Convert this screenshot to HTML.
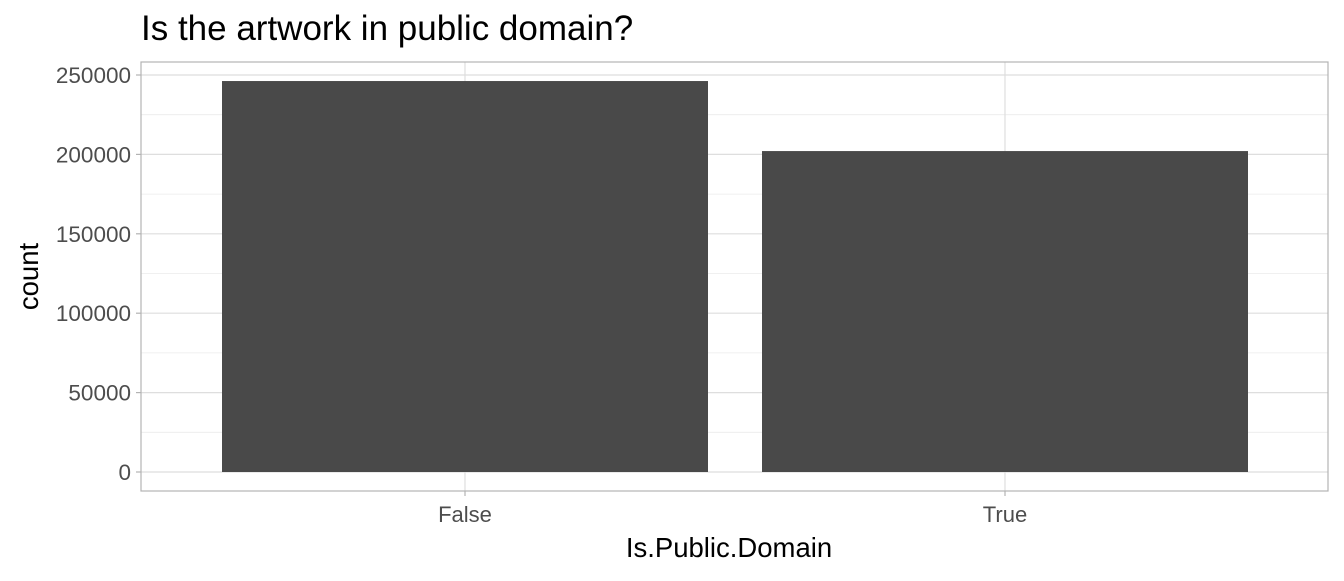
<!DOCTYPE html>
<html><head><meta charset="utf-8"><style>
body{margin:0;background:#fff;font-family:"Liberation Sans",sans-serif}
</style></head><body>
<svg id="c" width="1344" height="576" xmlns="http://www.w3.org/2000/svg"></svg>
<script>
const categories=["False","True"];
const counts=[246200,202100];
const yTicks=[0,50000,100000,150000,200000,250000];
const svg=document.getElementById('c');
const NS="http://www.w3.org/2000/svg";
const L=141,R=1328,T=62,B=491;
const y=v=>472-v*(397/250000);
const step=540;
const x=i=>465+i*step;
function el(t,a,txt){const e=document.createElementNS(NS,t);for(const k in a)e.setAttribute(k,a[k]);if(txt!==undefined)e.textContent=txt;svg.appendChild(e);return e;}
const bg=el('rect',{x:L,y:T,width:R-L,height:B-T,fill:'#fff'});


for(let i=0;i<yTicks.length-1;i++){const m=(yTicks[i]+yTicks[i+1])/2;
const g=el('line',{x1:L,x2:R,y1:y(m),y2:y(m),stroke:'#ebebeb','stroke-width':0.8});

}
yTicks.forEach(v=>{
const g=el('line',{x1:L,x2:R,y1:y(v),y2:y(v),stroke:'#dedede','stroke-width':1.2});


const t=el('line',{x1:L-5,x2:L,y1:y(v),y2:y(v),stroke:'#b3b3b3','stroke-width':1.2});


const l=el('text',{x:L-10,y:y(v)+8,'text-anchor':'end','font-size':22.5,fill:'#4d4d4d'},String(v));

});
categories.forEach((c,i)=>{
const g=el('line',{x1:x(i),x2:x(i),y1:T,y2:B,stroke:'#dedede','stroke-width':1.2});

});
categories.forEach((c,i)=>{
const w=0.9*step;
const b=el('rect',{x:x(i)-w/2,y:y(counts[i]),width:w,height:y(0)-y(counts[i]),fill:'#494949'});


const t=el('line',{x1:x(i),x2:x(i),y1:B,y2:B+5,stroke:'#b3b3b3','stroke-width':1.2});


const l=el('text',{x:x(i),y:522,'text-anchor':'middle','font-size':22,fill:'#4d4d4d'},c);

});
const br=el('rect',{x:L,y:T,width:R-L,height:B-T,fill:'none',stroke:'#b3b3b3','stroke-width':1.2});


const tt=el('text',{x:141,y:40,'font-size':35,fill:'#000'},'Is the artwork in public domain?');


const xt=el('text',{x:729,y:557,'text-anchor':'middle','font-size':27.5,fill:'#000'},'Is.Public.Domain');


const yt=el('text',{x:0,y:0,'text-anchor':'middle','font-size':27.5,fill:'#000',transform:'translate(38,'+((T+B)/2)+') rotate(-90)'},'count');


</script>
</body></html>
